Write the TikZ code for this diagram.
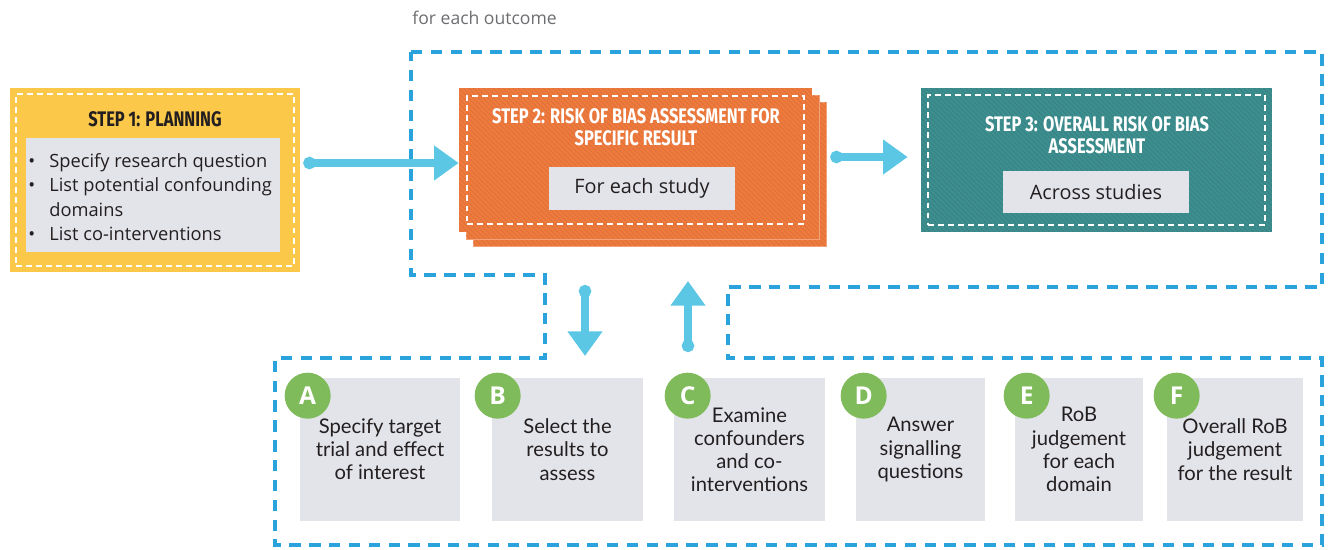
\documentclass[tikz,border=0pt]{standalone}
\usepackage{fontspec}
\setmainfont{Open Sans}
\newfontfamily\titlefont[FakeStretch=0.78]{Fira Sans}
\newfontfamily\stagefont{Lato}
\usetikzlibrary{arrows.meta,patterns.meta}
\definecolor{planyellow}{HTML}{FCC84A}
\definecolor{riskorange}{HTML}{EE7A3D}
\definecolor{overallteal}{HTML}{3D8E8F}
\definecolor{boxgray}{HTML}{E3E4EA}
\definecolor{dashblue}{HTML}{2AA3DC}
\definecolor{arrowblue}{HTML}{5BC7E5}
\definecolor{stagegreen}{HTML}{80BB5B}
\definecolor{textdark}{HTML}{231F20}
\definecolor{outcomegray}{HTML}{6D6E71}
\newcommand\planitem[1]{\makebox[0.42cm][l]{\textbullet}#1}

\begin{document}
\begin{tikzpicture}[x=0.02cm, y=-0.02cm, every node/.style={inner sep=0pt},
    outcomeline/.style={draw=dashblue, line width=2.3pt, dash pattern=on 6.5pt off 4.8pt},
    whitedash/.style={draw=white, line width=1.1pt, dash pattern=on 3.4pt off 2.3pt},
    hatched/.style={postaction={pattern={Lines[angle=-45,distance=2pt,line width=0.4pt]}, pattern color=#1}},
    steptitle/.style={text=white, align=center, font=\titlefont\bfseries\fontsize{12}{12.6}\selectfont},
    graybox/.style={fill=boxgray, text=textdark},
    stagebox/.style={graybox, minimum height=2.86cm, align=center, font=\stagefont\fontsize{11.5}{13.2}\selectfont},
    stageletter/.style={circle, fill=stagegreen, minimum size=0.92cm, text=white, font=\bfseries\fontsize{14}{14}\selectfont},
    flowarrow/.style={draw=arrowblue, line width=4pt, {Circle[length=7pt]}-{Triangle[length=14pt,width=19pt]}}]
  \useasboundingbox (0,0) rectangle (1334,549);

  % outline around the per-outcome part and the stages
  \node[anchor=west, text=outcomegray, font=\fontsize{10}{12}\selectfont] (outcome) at (412,18) {for each outcome};
  \draw[outcomeline] (411,52) -- (1322,52) -- (1322,287) -- (728,287) -- (728,358) -- (1322,358)
    -- (1322,545) -- (275,545) -- (275,358) -- (545,358) -- (545,275) -- (411,275) -- cycle;

  % step 1
  \node[fill=planyellow, minimum width=5.8cm, minimum height=3.68cm] (s1) at (155,180) {};
  \node[whitedash, minimum width=5.56cm, minimum height=3.44cm] at (s1) {};
  \node[text=textdark, font=\titlefont\bfseries\fontsize{12}{12}\selectfont] (s1t) at (155,119) {STEP 1: PLANNING};
  \node[graybox, minimum width=5.08cm, minimum height=2.28cm] (s1b) at (153,195) {};
  \node[anchor=west, align=left, text=textdark, font=\fontsize{10.4}{14}\selectfont] (s1list) at (28,197)
    {\planitem{Specify research question}\\\planitem{List potential confounding}\\\hspace*{0.42cm}domains\\\planitem{List co-interventions}};

  % step 2, a small stack of cards
  \node[fill=riskorange, hatched=riskorange!93!black, draw=riskorange!70!white, line width=0.5pt,
    minimum width=7.06cm, minimum height=2.88cm] (s2c) at (649.5,174) {};
  \node[fill=riskorange, hatched=riskorange!93!black, draw=riskorange!70!white, line width=0.5pt,
    minimum width=7.06cm, minimum height=2.88cm] (s2b) at (642.5,167) {};
  \node[fill=riskorange, hatched=riskorange!93!black, minimum width=7.06cm, minimum height=2.88cm] (s2) at (635.5,160) {};
  \node[whitedash, minimum width=6.74cm, minimum height=2.56cm] at (s2) {};
  \node[steptitle] (s2t) at (636,127) {STEP 2: RISK OF BIAS ASSESSMENT FOR\\SPECIFIC RESULT};
  \node[graybox, minimum width=3.72cm, minimum height=0.86cm, font=\fontsize{11.3}{12}\selectfont] (s2g) at (642,188.5) {For each study};

  % step 3
  \node[fill=overallteal, hatched=overallteal!91!black, minimum width=7.02cm, minimum height=2.88cm] (s3) at (1096.5,160) {};
  \node[whitedash, minimum width=6.74cm, minimum height=2.6cm] at (s3) {};
  \node[steptitle] (s3t) at (1097,135) {STEP 3: OVERALL RISK OF BIAS\\ASSESSMENT};
  \node[graybox, minimum width=3.72cm, minimum height=0.84cm, font=\fontsize{11.3}{12}\selectfont] (s3g) at (1096,192) {Across studies};

  \draw[flowarrow] ([shift={(3,-17)}]s1.east) -- ([shift={(0,3)}]s2.west);
  \draw[flowarrow] ([shift={(18,-3)}]s2.east) -- ([shift={(-13,-3)}]s3.west);

  % down to the stages and back up again
  \coordinate (toStages) at (585,285);
  \coordinate (intoStages) at (585,356);
  \coordinate (fromStages) at (688,352);
  \coordinate (backUp) at (688,281);
  \draw[flowarrow] (toStages) -- (intoStages);
  \draw[flowarrow] (fromStages) -- (backUp);

  % stages A to F
  \node[stagebox, minimum width=3.2cm] (stageA) at (380,449.5) {Specify target\\trial and effect\\of interest};
  \node[stagebox, minimum width=3.02cm] (stageB) at (567.5,449.5) {Select the\\results to\\assess};
  \node[stagebox, minimum width=3.02cm] (stageC) at (749.5,449.5) {Examine\\confounders\\and co-\\interventions};
  \node[stagebox, minimum width=2.58cm] (stageD) at (920.5,449.5) {Answer\\signalling\\questions};
  \node[stagebox, minimum width=2.56cm] (stageE) at (1079,449.5) {RoB\\judgement\\for each\\domain};
  \node[stagebox, minimum width=2.72cm] (stageF) at (1235,449.5) {Overall RoB\\judgement\\for the result};
  \node[stageletter] (letterA) at ([shift={(8,18)}]stageA.north west) {A};
  \node[stageletter] (letterB) at ([shift={(6,18)}]stageB.north west) {B};
  \node[stageletter] (letterC) at ([shift={(14,18)}]stageC.north west) {C};
  \node[stageletter] (letterD) at ([shift={(8,18)}]stageD.north west) {D};
  \node[stageletter] (letterE) at ([shift={(12,18)}]stageE.north west) {E};
  \node[stageletter] (letterF) at ([shift={(10,18)}]stageF.north west) {F};
\end{tikzpicture}
\end{document}
